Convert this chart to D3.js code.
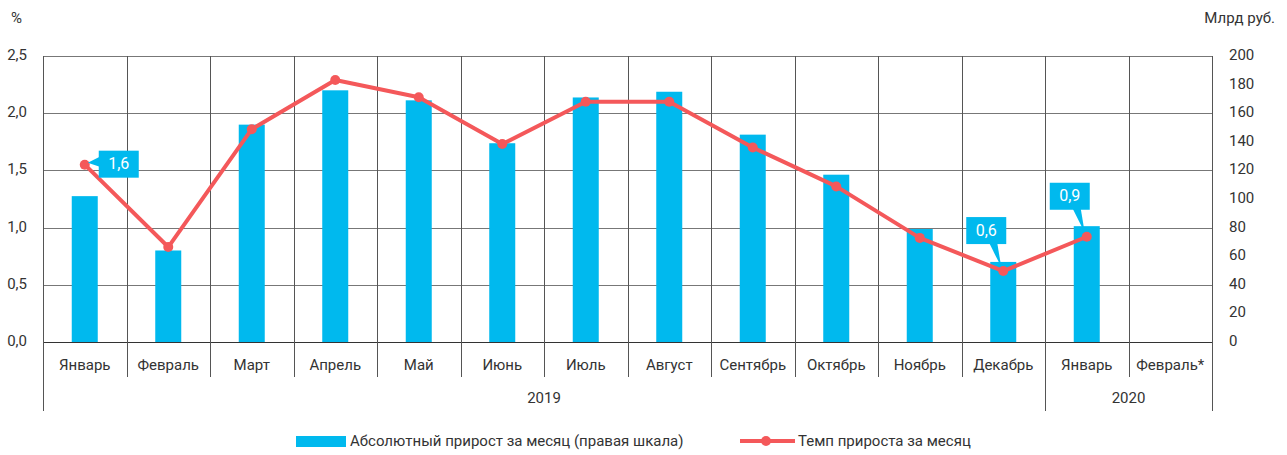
<!DOCTYPE html>
<html>
<head>
<meta charset="utf-8">
<script src="https://cdn.jsdelivr.net/npm/d3@7"></script>
<style>
  body { margin: 0; background: #fff; }
  text { font-family: Roboto, "Open Sans", sans-serif; fill: #333; }
</style>
</head>
<body>
<svg></svg>
<script>
// data
const months = ["Январь", "Февраль", "Март", "Апрель", "Май", "Июнь", "Июль", "Август",
  "Сентябрь", "Октябрь", "Ноябрь", "Декабрь", "Январь", "Февраль*"];
const years = [{ name: "2019", from: 0, to: 12 }, { name: "2020", from: 12, to: 14 }];
const absGrowth = [102, 64, 152, 176, 169, 139, 171, 175, 145, 117, 79, 56, 81, null]; // млрд руб.
const rateGrowth = [1.55, 0.83, 1.86, 2.29, 2.14, 1.73, 2.10, 2.10, 1.70, 1.36, 0.91, 0.62, 0.92, null]; // %
const leftTicks = [0, 0.5, 1, 1.5, 2, 2.5];
const rightTicks = [0, 20, 40, 60, 80, 100, 120, 140, 160, 180, 200];
const callouts = [
  { i: 0, text: "1,6", side: "right" },
  { i: 11, text: "0,6", side: "up" },
  { i: 12, text: "0,9", side: "up" }
];

const width = 1287, height = 455;
const blue = "#00b9ee", red = "#f4585a";
const fmt = d3.format(".1f");
const comma = v => fmt(v).replace(".", ",");

const svg = d3.select("svg").attr("width", width).attr("height", height);

const mLeft = 43, mRight = 1212, mTop = 56, mBottom = 342;

const x = d3.scaleBand().domain(d3.range(months.length)).range([mLeft, mRight]);
const yL = d3.scaleLinear().domain([0, 2.5]).range([mBottom, mTop]);
const yR = d3.scaleLinear().domain([0, 200]).range([mBottom, mTop]);

// horizontal grid
svg.append("g")
  .selectAll("line")
  .data(leftTicks)
  .join("line")
  .attr("x1", mLeft).attr("x2", mRight)
  .attr("y1", d => Math.round(yL(d)) + 0.5).attr("y2", d => Math.round(yL(d)) + 0.5)
  .attr("stroke", d => d === 0 ? "#333" : "#777")
  .attr("stroke-width", 1);

// vertical grid: category boundaries down through the month row
const bounds = d3.range(months.length + 1).map(i => i < months.length ? x(i) : mRight);
const yearEdges = new Set(years.flatMap(y => [y.from, y.to]));
svg.append("g")
  .selectAll("line")
  .data(bounds)
  .join("line")
  .attr("x1", d => Math.round(d) + 0.5).attr("x2", d => Math.round(d) + 0.5)
  .attr("y1", mTop)
  .attr("y2", (d, i) => yearEdges.has(i) ? 411 : 377)
  .attr("stroke", "#555")
  .attr("stroke-width", 1);

// bars (right axis)
const barW = 26;
svg.append("g")
  .selectAll("rect")
  .data(absGrowth.map((v, i) => ({ v, i })).filter(d => d.v != null))
  .join("rect")
  .attr("x", d => x(d.i) + x.bandwidth() / 2 - barW / 2)
  .attr("y", d => yR(d.v))
  .attr("width", barW)
  .attr("height", d => mBottom - yR(d.v))
  .attr("fill", blue);

// line (left axis)
const pts = rateGrowth.map((v, i) => ({ v, i })).filter(d => d.v != null);
const cx = d => x(d.i) + x.bandwidth() / 2;
svg.append("path")
  .datum(pts)
  .attr("fill", "none")
  .attr("stroke", red)
  .attr("stroke-width", 4)
  .attr("stroke-linejoin", "round")
  .attr("d", d3.line().x(cx).y(d => yL(d.v)));

svg.append("g")
  .selectAll("circle")
  .data(pts)
  .join("circle")
  .attr("cx", cx)
  .attr("cy", d => yL(d.v))
  .attr("r", 5)
  .attr("fill", red);

// callouts
const cg = svg.append("g");
callouts.forEach(c => {
  const px = cx({ i: c.i }), py = yL(rateGrowth[c.i]);
  const bw = 40, bh = 27;
  let bx, by, tri;
  if (c.side === "right") {
    bx = px + 14; by = py - 14;
    tri = [[px + 3, py - 2], [bx + 1, by + 6], [bx + 1, by + 16]];
  } else {
    bx = px - 37; by = py - 54;
    tri = [[px - 2, py - 4], [bx + 23, by + bh - 1], [bx + 31, by + bh - 1]];
  }
  cg.append("path").attr("d", d3.line()(tri) + "Z").attr("fill", blue);
  cg.append("rect").attr("x", bx).attr("y", by).attr("width", bw).attr("height", bh).attr("fill", blue);
  cg.append("text")
    .attr("x", bx + bw / 2).attr("y", by + bh / 2 + 1)
    .attr("text-anchor", "middle").attr("dominant-baseline", "middle")
    .style("fill", "#fff").style("font-size", "16px")
    .text(c.text);
});

// left axis labels
svg.append("g")
  .selectAll("text")
  .data(leftTicks)
  .join("text")
  .attr("x", 27).attr("y", d => yL(d))
  .attr("text-anchor", "end").attr("dominant-baseline", "middle")
  .style("font-size", "15px")
  .text(comma);

// right axis labels
svg.append("g")
  .selectAll("text")
  .data(rightTicks)
  .join("text")
  .attr("x", 1229).attr("y", d => yR(d))
  .attr("text-anchor", "start").attr("dominant-baseline", "middle")
  .style("font-size", "15px")
  .text(d => d);

svg.append("text").attr("x", 11).attr("y", 19).attr("dominant-baseline", "middle")
  .style("font-size", "15px").text("%");
svg.append("text").attr("x", 1275).attr("y", 19).attr("text-anchor", "end")
  .attr("dominant-baseline", "middle").style("font-size", "15px").text("Млрд руб.");

// month labels
svg.append("g")
  .selectAll("text")
  .data(months)
  .join("text")
  .attr("x", (d, i) => x(i) + x.bandwidth() / 2)
  .attr("y", 366)
  .attr("text-anchor", "middle").attr("dominant-baseline", "middle")
  .style("font-size", "15px")
  .text(d => d);

// year labels
svg.append("g")
  .selectAll("text")
  .data(years)
  .join("text")
  .attr("x", d => (bounds[d.from] + bounds[d.to]) / 2)
  .attr("y", 399)
  .attr("text-anchor", "middle").attr("dominant-baseline", "middle")
  .style("font-size", "15px")
  .text(d => d.name);

// legend
const lg = svg.append("g");
lg.append("rect").attr("x", 296).attr("y", 436).attr("width", 50).attr("height", 11).attr("fill", blue);
lg.append("text").attr("x", 350).attr("y", 442).attr("dominant-baseline", "middle")
  .style("font-size", "15px").text("Абсолютный прирост за месяц (правая шкала)");
lg.append("line").attr("x1", 740).attr("x2", 795).attr("y1", 441).attr("y2", 441)
  .attr("stroke", red).attr("stroke-width", 4);
lg.append("circle").attr("cx", 766).attr("cy", 441).attr("r", 5).attr("fill", red);
lg.append("text").attr("x", 798).attr("y", 442).attr("dominant-baseline", "middle")
  .style("font-size", "15px").text("Темп прироста за месяц");
</script>
</body>
</html>
